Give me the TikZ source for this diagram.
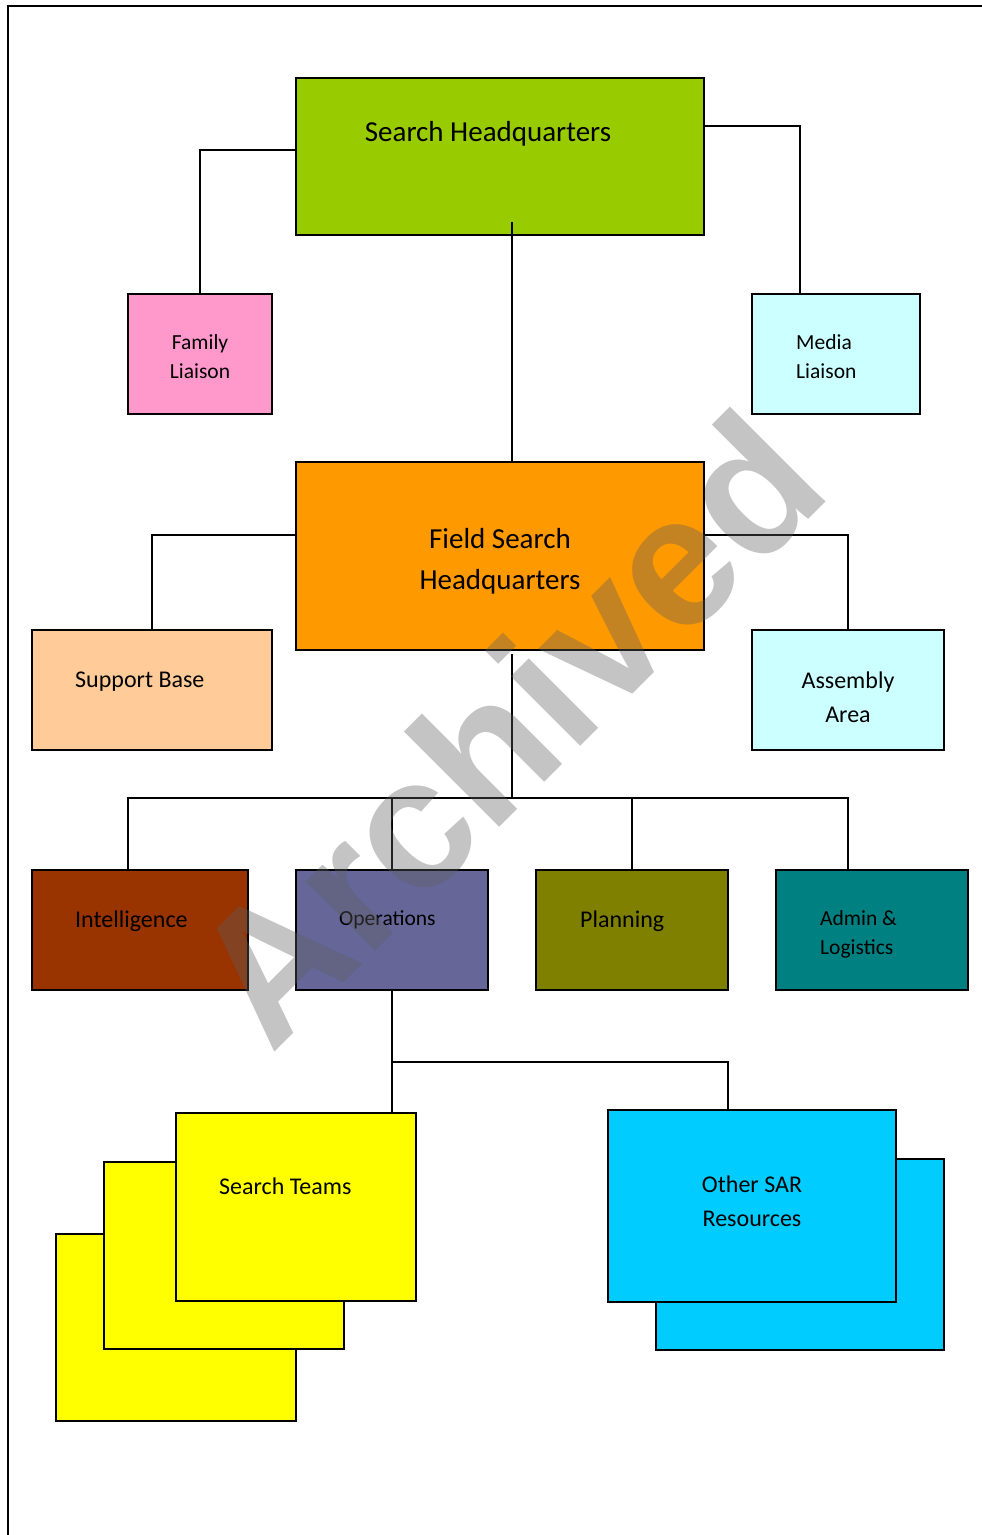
\documentclass[tikz,border=0pt]{standalone}
\usepackage{fontspec}
\setmainfont{Carlito}
\newfontfamily\markfont{Liberation Sans}
\usepackage{tikz}
\usetikzlibrary{positioning}

\definecolor{hqgreen}{HTML}{99CC00}
\definecolor{liaisonpink}{HTML}{FF99CC}
\definecolor{paleaqua}{HTML}{CCFFFF}
\definecolor{fieldorange}{HTML}{FF9900}
\definecolor{peach}{HTML}{FFCC99}
\definecolor{rust}{HTML}{993300}
\definecolor{slateblue}{HTML}{666699}
\definecolor{olive}{HTML}{808000}
\definecolor{teal}{HTML}{008080}
\definecolor{teamyellow}{HTML}{FFFF00}
\definecolor{sarblue}{HTML}{00CCFF}

\begin{document}
\begin{tikzpicture}[x=1pt, y=-1pt, every node/.style={inner sep=0pt}]
  \tikzstyle{Box}=[draw, rectangle, line width=2pt]
  \tikzstyle{Link}=[line width=1.5pt]
  \tikzstyle{Big}=[font=\fontsize{29}{41}\selectfont, align=center]
  \tikzstyle{Mid}=[font=\fontsize{24}{34}\selectfont, align=center]
  \tikzstyle{Small}=[font=\fontsize{21.5}{29}\selectfont, align=left]

  \useasboundingbox (0,0) rectangle (982,1535);
  \draw[line width=2pt] (8,1535) -- (8,6) -- (982,6);

  % top level
  \node[Box, fill=hqgreen, minimum width=408pt, minimum height=157pt] (shq) at (500,156.5) {};
  \node[Big, anchor=base] (shq-t) at (488,141) {Search Headquarters};
  \node[Box, fill=liaisonpink, minimum width=144pt, minimum height=120pt] (family) at (200,354) {};
  \node[Small, align=center] (family-t) at (200,356.5) {Family\\Liaison};
  \node[Box, fill=paleaqua, minimum width=168pt, minimum height=120pt] (media) at (836,354) {};
  \node[Small, anchor=west] (media-t) at (796,357) {Media\\Liaison};

  % field level
  \node[Box, fill=fieldorange, minimum width=408pt, minimum height=188pt] (fshq) at (500,556) {};
  \node[Big] (fshq-t) at (500,561) {Field Search\\Headquarters};
  \node[Box, fill=peach, minimum width=240pt, minimum height=120pt] (support) at (152,690) {};
  \node[Mid, anchor=base west] (support-t) at (75,687) {Support Base};
  \node[Box, fill=paleaqua, minimum width=192pt, minimum height=120pt] (assembly) at (848,690) {};
  \node[Mid] (assembly-t) at (848,697) {Assembly\\Area};

  % sections
  \node[Box, fill=rust, minimum width=216pt, minimum height=120pt] (intel) at (140,930) {};
  \node[Mid, anchor=base west] (intel-t) at (75,927) {Intelligence};
  \node[Box, fill=slateblue, minimum width=192pt, minimum height=120pt] (ops) at (392,930) {};
  \node[Small, anchor=base west] (ops-t) at (339,925) {Operations};
  \node[Box, fill=olive, minimum width=192pt, minimum height=120pt] (plan) at (632,930) {};
  \node[Mid, anchor=base west] (plan-t) at (580,927) {Planning};
  \node[Box, fill=teal, minimum width=192pt, minimum height=120pt] (admin) at (872,930) {};
  \node[Small, anchor=west] (admin-t) at (820,934.5) {Admin \&\\Logistics};

  % resources
  \foreach \cx/\cy [count=\i] in {176/1327.5, 224/1255.5, 296/1207}
    \node[Box, fill=teamyellow, minimum width=240pt, minimum height=187.5pt] (teams\i) at (\cx,\cy) {};
  \node[Mid, anchor=base west] (teams-t) at (219,1194) {Search Teams};
  \node[Box, fill=sarblue, minimum width=288pt, minimum height=191pt] (other-back) at (800,1254.5) {};
  \node[Box, fill=sarblue, minimum width=288pt, minimum height=192pt] (other) at (752,1206) {};
  \node[Mid] (other-t) at (752,1201) {Other SAR\\Resources};

  % connectors
  \coordinate (shq-out) at (512,222);
  \coordinate (fshq-out) at (512,654);
  \coordinate (busL) at (128,798);
  \coordinate (busR) at (848,798);
  \coordinate (split) at (392,1062);

  \draw[Link] ([yshift=6.5pt]shq.west) -| (family.north);
  \draw[Link] ([yshift=30.5pt]shq.east) -| ([xshift=-36pt]media.north);
  \draw[Link] (shq-out) -- (shq-out |- fshq.north);
  \draw[Link] ([yshift=21pt]fshq.west) -| (support.north);
  \draw[Link] ([yshift=21pt]fshq.east) -| (assembly.north);
  \draw[Link] (fshq-out) -- (fshq-out |- busL);
  \draw[Link] (intel.north -| busL) -- (busL) -- (busR) -- (admin.north -| busR);
  \draw[Link] (ops.north) -- (ops.north |- busL);
  \draw[Link] (plan.north) -- (plan.north |- busL);
  \draw[Link] (ops.south) -- (split) -| ([xshift=-24pt]other.north);
  \draw[Link] (split) -- (split |- teams3.north);

  % stamp
  \node[rotate=45, text=black!63, text opacity=0.37, font=\markfont\bfseries\fontsize{186}{186}\selectfont] (stamp) at (506,727) {Archived};
\end{tikzpicture}
\end{document}
